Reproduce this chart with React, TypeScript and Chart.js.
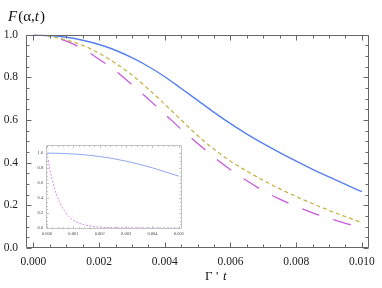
import React, { useEffect, useRef } from "react";
import { Chart, registerables } from "chart.js";
Chart.register(...registerables);

// ---- data ----
const tValues = [0, 0.0005, 0.001, 0.0015, 0.002, 0.0025, 0.003, 0.0035, 0.004, 0.0045, 0.005, 0.0055, 0.006, 0.0065, 0.007, 0.0075, 0.008, 0.0085, 0.009, 0.0095, 0.01];
const blueValues = [1.0, 0.996, 0.988, 0.974, 0.954, 0.927, 0.892, 0.851, 0.803, 0.748, 0.692, 0.636, 0.583, 0.534, 0.489, 0.447, 0.407, 0.369, 0.333, 0.298, 0.264];
const yellowValues = [1.0, 0.993, 0.975, 0.95, 0.913, 0.866, 0.811, 0.745, 0.674, 0.6, 0.527, 0.463, 0.407, 0.36, 0.317, 0.277, 0.241, 0.208, 0.176, 0.147, 0.119];
const magentaValues = [1.0, 0.992, 0.97, 0.934, 0.885, 0.83, 0.766, 0.698, 0.628, 0.557, 0.49, 0.425, 0.367, 0.315, 0.268, 0.229, 0.195, 0.165, 0.139, 0.116, 0.097];
const xTickValues = [0, 0.002, 0.004, 0.006, 0.008, 0.01];
const yTickValues = [0, 0.2, 0.4, 0.6, 0.8, 1.0];

const insetBlueT = [0, 0.0005, 0.001, 0.0015, 0.002, 0.0025, 0.003, 0.0035, 0.004, 0.0045, 0.005];
const insetBlueValues = [1.0, 0.996, 0.988, 0.974, 0.954, 0.927, 0.892, 0.851, 0.803, 0.748, 0.692];
const insetMagentaT = [0, 0.0001, 0.0002, 0.0003, 0.0004, 0.0005, 0.0006, 0.0007, 0.0008, 0.0009, 0.001, 0.0012, 0.0014, 0.0016, 0.0018, 0.002, 0.0025, 0.003, 0.0035, 0.004, 0.0045, 0.005];
const insetMagentaValues = [1.0, 0.8, 0.64, 0.51, 0.41, 0.33, 0.26, 0.21, 0.165, 0.13, 0.105, 0.068, 0.045, 0.03, 0.02, 0.013, 0.006, 0.003, 0.002, 0.001, 0.0, 0.0];
const insetXTickValues = [0, 0.001, 0.002, 0.003, 0.004, 0.005];
const insetYTickValues = [0, 0.2, 0.4, 0.6, 0.8, 1.0];

const SERIF = "'Liberation Serif', 'DejaVu Serif', serif";

type FrameCfg = {
  color: string; width: number;
  xMinor: number; xRatio: number; xFrom: number; xTo: number;
  yMinor: number; yRatio: number; yFrom: number; yTo: number;
  majorLen: number; minorLen: number;
};

function makeFramePlugin(cfg: FrameCfg) {
  return {
    id: "frameTicks",
    afterDatasetsDraw(chart: any) {
      const { ctx, chartArea: a } = chart;
      const xs = chart.scales.x, ys = chart.scales.y;
      const L = Math.round(a.left) + 0.5, R = Math.round(a.right) - 0.5;
      const T = Math.round(a.top) + 0.5, B = Math.round(a.bottom) - 0.5;
      ctx.save();
      ctx.strokeStyle = cfg.color;
      ctx.lineWidth = cfg.width;
      ctx.beginPath();
      ctx.rect(L, T, R - L, B - T);
      ctx.stroke();
      ctx.beginPath();
      const nx0 = Math.ceil(cfg.xFrom / cfg.xMinor - 1e-6), nx1 = Math.floor(cfg.xTo / cfg.xMinor + 1e-6);
      for (let n = nx0; n <= nx1; n++) {
        const px = Math.round(xs.getPixelForValue(n * cfg.xMinor)) + 0.5;
        const len = n % cfg.xRatio === 0 ? cfg.majorLen : cfg.minorLen;
        ctx.moveTo(px, B); ctx.lineTo(px, B - len);
        ctx.moveTo(px, T); ctx.lineTo(px, T + len);
      }
      const ny0 = Math.ceil(cfg.yFrom / cfg.yMinor - 1e-6), ny1 = Math.floor(cfg.yTo / cfg.yMinor + 1e-6);
      for (let n = ny0; n <= ny1; n++) {
        const py = Math.round(ys.getPixelForValue(n * cfg.yMinor)) + 0.5;
        const len = n % cfg.yRatio === 0 ? cfg.majorLen : cfg.minorLen;
        ctx.moveTo(L, py); ctx.lineTo(L + len, py);
        ctx.moveTo(R, py); ctx.lineTo(R - len, py);
      }
      ctx.stroke();
      ctx.restore();
    },
  };
}

const labelPlugin = {
  id: "axisLabels",
  afterDraw(chart: any) {
    const { ctx } = chart;
    ctx.save();
    ctx.fillStyle = "#111";
    ctx.textBaseline = "alphabetic";
    ctx.textAlign = "left";
    // F(α,t)
    const parts: [string, boolean][] = [["F", true], ["(α,", false], ["t", true], [")", false]];
    let x = 8;
    for (const [s, it] of parts) {
      ctx.font = `${it ? "italic " : ""}15px ${SERIF}`;
      ctx.fillText(s, x, 21);
      x += ctx.measureText(s).width + (it ? 1 : 0);
    }
    // Γ' t
    ctx.font = `13px ${SERIF}`;
    ctx.fillText("Γ", 205, 280);
    ctx.fillText("'", 216, 280);
    ctx.font = `italic 13px ${SERIF}`;
    ctx.fillText("t", 223, 280);
    ctx.restore();
  },
};

function toPoints(xs: number[], ys: number[]) {
  return xs.map((x, i) => ({ x, y: ys[i] }));
}

export default function App() {
  const mainRef = useRef<HTMLCanvasElement | null>(null);
  const insetRef = useRef<HTMLCanvasElement | null>(null);

  useEffect(() => {
    const tickFont = { family: SERIF, size: 11.5 };
    const main = new Chart(mainRef.current as HTMLCanvasElement, {
      type: "line",
      data: {
        datasets: [
          {
            data: toPoints(tValues, blueValues),
            borderColor: "#5580f0", borderWidth: 1.4, pointRadius: 0,
            cubicInterpolationMode: "monotone", fill: false,
          },
          {
            data: toPoints(tValues, yellowValues),
            borderColor: "#c8b44a", borderWidth: 1.3, pointRadius: 0, borderDash: [4, 3],
            cubicInterpolationMode: "monotone", fill: false,
          },
          {
            data: toPoints(tValues, magentaValues),
            borderColor: "#c85adc", borderWidth: 1.3, pointRadius: 0, borderDash: [18, 15], borderDashOffset: 5,
            cubicInterpolationMode: "monotone", fill: false,
          },
        ],
      } as any,
      options: {
        responsive: false,
        animation: false,
        layout: { padding: { left: 0, right: 7.7, top: 34.7, bottom: 0 } },
        plugins: { legend: { display: false }, tooltip: { enabled: false }, title: { display: false } },
        scales: {
          x: {
            type: "linear", min: -0.000225, max: 0.010225,
            grid: { display: false, drawTicks: false }, border: { display: false },
            afterBuildTicks: (s: any) => { s.ticks = xTickValues.map((v) => ({ value: v })); },
            afterFit: (s: any) => { s.height = 40; },
            ticks: { font: tickFont, color: "#222", padding: 7, maxRotation: 0, autoSkip: false, callback: (v: any) => Number(v).toFixed(3) },
          },
          y: {
            type: "linear", min: 0, max: 1,
            grid: { display: false, drawTicks: false }, border: { display: false },
            afterBuildTicks: (s: any) => { s.ticks = yTickValues.map((v) => ({ value: v })); },
            afterFit: (s: any) => { s.width = 26; },
            ticks: { font: tickFont, color: "#222", padding: 8, autoSkip: false, callback: (v: any) => Number(v).toFixed(1) },
          },
        },
      } as any,
      plugins: [
        makeFramePlugin({ color: "#666", width: 1, xMinor: 0.0005, xRatio: 4, xFrom: 0, xTo: 0.01, yMinor: 0.05, yRatio: 4, yFrom: 0, yTo: 1, majorLen: 5, minorLen: 3 }),
        labelPlugin,
      ],
    });

    const insetFont = { family: SERIF, size: 4.5 };
    const inset = new Chart(insetRef.current as HTMLCanvasElement, {
      type: "line",
      data: {
        datasets: [
          {
            data: toPoints(insetBlueT, insetBlueValues),
            borderColor: "#8ea8f2", borderWidth: 1, pointRadius: 0,
            cubicInterpolationMode: "monotone", fill: false,
          },
          {
            data: toPoints(insetMagentaT, insetMagentaValues),
            borderColor: "#dc8cee", borderWidth: 1, pointRadius: 0, borderDash: [2, 1.5],
            cubicInterpolationMode: "monotone", fill: false,
          },
        ],
      } as any,
      options: {
        responsive: false,
        animation: false,
        layout: { padding: { left: 0, right: 4, top: 4, bottom: 0 } },
        plugins: { legend: { display: false }, tooltip: { enabled: false } },
        scales: {
          x: {
            type: "linear", min: -0.00005, max: 0.00511,
            grid: { display: false, drawTicks: false }, border: { display: false },
            afterBuildTicks: (s: any) => { s.ticks = insetXTickValues.map((v) => ({ value: v })); },
            afterFit: (s: any) => { s.height = 11; },
            ticks: { font: insetFont, color: "#444", padding: 2, maxRotation: 0, autoSkip: false, callback: (v: any) => Number(v).toFixed(3) },
          },
          y: {
            type: "linear", min: -0.012, max: 1.105,
            grid: { display: false, drawTicks: false }, border: { display: false },
            afterBuildTicks: (s: any) => { s.ticks = insetYTickValues.map((v) => ({ value: v })); },
            afterFit: (s: any) => { s.width = 15.7; },
            ticks: { font: insetFont, color: "#444", padding: 2.5, autoSkip: false, callback: (v: any) => Number(v).toFixed(1) },
          },
        },
      } as any,
      plugins: [
        makeFramePlugin({ color: "#c4c4c4", width: 1, xMinor: 0.0002, xRatio: 5, xFrom: 0, xTo: 0.005, yMinor: 0.05, yRatio: 4, yFrom: 0, yTo: 1, majorLen: 2.5, minorLen: 1.5 }),
      ],
    });

    return () => {
      main.destroy();
      inset.destroy();
    };
  }, []);

  return (
    <div style={{ position: "absolute", left: 0, top: 0, width: 382, height: 288, background: "#fff", overflow: "hidden" }}>
      <canvas ref={mainRef} width={382} height={288} style={{ position: "absolute", left: 0, top: 0, width: 382, height: 288 }} />
      <canvas ref={insetRef} width={156} height={100} style={{ position: "absolute", left: 30, top: 140, width: 156, height: 100 }} />
    </div>
  );
}
